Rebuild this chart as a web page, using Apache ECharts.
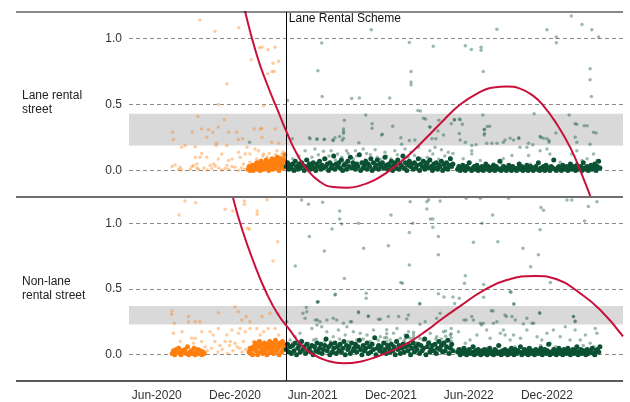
<!DOCTYPE html>
<html>
<head>
<meta charset="utf-8">
<script src="https://cdn.jsdelivr.net/npm/echarts@6/dist/echarts.min.js"></script>
<style>
  html, body { margin: 0; padding: 0; background: #fff; }
  #chart { width: 630px; height: 402px; }
</style>
</head>
<body>
<div id="chart"></div>
<script>
// Horizontal axis: days counted from 1 Jan 2020
const dayMin = 87;
const dayMax = 1243;
const schemeStartDay = 454;
const schemeLabel = 'Lane Rental Scheme';
const tickDays = [152, 335, 517, 700, 882, 1065];
const tickLabels = ['Jun-2020', 'Dec-2020', 'Jun-2021', 'Dec-2021', 'Jun-2022', 'Dec-2022'];
const yTicks = [0, 0.5, 1.0];
const panelNames = ['Lane rental\nstreet', 'Non-lane\nrental street'];
const laneBand = [0.19, 0.43];
const nonLaneBand = [0.23, 0.37];

// Fitted trend, [day, value]
const laneTrend = [[330, 1.62], [359, 1.20], [386, 0.875], [410, 0.655], [437, 0.44], [456, 0.29], [480, 0.125],
  [503, 0.01], [534, -0.085], [565, -0.124], [597, -0.13], [628, -0.114], [659, -0.076], [690, -0.015],
  [722, 0.063], [753, 0.152], [784, 0.252], [815, 0.354], [862, 0.50], [909, 0.595], [940, 0.628],
  [971, 0.636], [1002, 0.62], [1033, 0.565], [1057, 0.49], [1088, 0.352], [1120, 0.172], [1143, 0.0],
  [1166, -0.19], [1185, -0.37]];
const nonLaneTrend = [[310, 1.47], [330, 1.2], [351, 0.96], [378, 0.71], [410, 0.46], [437, 0.30], [464, 0.185],
  [487, 0.085], [519, 0.0], [550, -0.045], [589, -0.065], [628, -0.053], [667, -0.015], [706, 0.036],
  [745, 0.10], [784, 0.185], [815, 0.262], [862, 0.37], [917, 0.49], [971, 0.568], [1038, 0.599],
  [1088, 0.574], [1143, 0.467], [1190, 0.34], [1243, 0.14]];

// Dense clusters near zero: one reading (in hundredths) every few days
const laneCoreBeforeStart = 366, laneCoreBeforeStep = 2;
const laneCoreBefore = [1,3,0,2,1,4,0,2,
  4,2,6,1,3,5,0,7,2,4,1,6,3,8,2,5,0,4,
  7,3,9,1,5,8,2,6,10,4,0,7,3,9,5,2,8,12];
const laneCoreAfterStart = 455, laneCoreAfterStep = 3;
const laneCoreAfter = [3,6,1,4,2,5,0,7,3,1,5,2,6,4,0,3,8,2,5,1,
  4,6,2,0,5,3,7,1,4,2,9,3,5,0,6,2,4,11,1,5,
  3,6,2,8,0,4,5,1,7,3,10,2,6,4,1,5,3,12,0,6,
  2,4,7,1,5,3,9,0,6,2,4,8,1,5,3,6,2,10,4,1,
  5,3,7,0,4,6,2,8,1,5,3,11,2,6,0,4,7,3,5,1,
  6,2,4,9,0,5,3,7,1,4,6,2,8,3,0,5,2,6,1,4,
  3,7,0,5,2,6,1,4,9,3,5];
const laneCoreLateStart = 856, laneCoreLateStep = 3;
const laneCoreLate = [1,3,0,2,4,1,0,3,2,6,1,0,2,3,1,4,0,2,1,3,
  0,2,5,1,3,0,2,1,4,0,3,2,1,7,0,2,3,1,0,2,
  4,1,0,3,2,1,0,2,5,1,3,0,2,1,4,0,2,3,1,0,
  2,3,1,6,0,2,1,3,0,4,2,1,0,3,2,8,1,0,2,3,
  1,0,4,2,1,3,0,2,5,1,3,2,0,4,1,2,3,0,6,2,
  1,3,0,2,4,1,2,5,0,3,7,2];

const nonLaneClumpStart = 188, nonLaneClumpStep = 3;
const nonLaneClump = [1,3,0,4,2,5,1,0,3,2,4,1,6,0,2,3,1,5,0,2,4,1,3,0,2,1];
const nonLaneCoreBeforeStart = 368, nonLaneCoreBeforeStep = 2;
const nonLaneCoreBefore = [2,5,1,4,0,6,
  5,9,3,7,0,6,10,2,8,4,1,7,9,3,6,0,8,5,
  10,2,7,4,9,1,6,11,3,8,5,0,9,7,2,10,4,8,6];
const nonLaneCoreAfterStart = 455, nonLaneCoreAfterStep = 3;
const nonLaneCoreAfter = [4,8,2,6,1,7,3,9,0,5,7,2,10,4,6,1,8,3,5,2,
  7,0,6,3,9,2,5,8,1,4,7,12,3,6,0,8,2,5,9,1,
  6,3,8,2,5,10,0,7,4,6,1,9,3,5,8,2,6,11,4,0,
  7,3,5,9,1,6,2,8,4,13,0,5,7,3,6,2,9,4,1,7,
  5,2,8,3,6,0,10,4,7,1,5,8,2,6,14,3,7,0,5,9,
  2,6,4,8,1,7,3,5,12,0,6,9,2,4,7,3,8,1,5,10,
  4,7,2,9,3,6,11,1,5,8,3];
const nonLaneCoreLateStart = 856, nonLaneCoreLateStep = 3;
const nonLaneCoreLate = [2,4,0,3,1,5,2,0,3,4,1,2,6,0,3,1,4,2,0,3,
  1,4,2,0,3,5,1,2,0,4,3,1,7,2,0,3,1,4,2,0,
  3,1,5,2,0,4,1,3,2,6,0,2,4,1,3,0,5,2,1,3,
  0,4,2,1,3,5,0,2,4,1,3,8,0,2,1,4,3,0,2,5,
  1,3,0,4,2,1,5,3,0,2,4,1,3,6,0,2,4,1,3,2,
  0,4,1,3,2,5,1,0,3,4,2,6];

// Individual observations, [day, value]
const laneBefore = [[253,1.14],[288,1.055],[344,1.08],[392,0.93],[398,0.934],[412,0.914],[429,0.934],[373,0.838],
  [424,0.813],[437,0.828],[412,0.732],[427,0.75],[422,0.75],[316,0.657],[296,0.5],[402,0.49],
  [248,0.41],[189,0.29],[191,0.235],[235,0.29],[257,0.315],[273,0.31],[283,0.29],[269,0.252],[310,0.384],
  [320,0.29],[339,0.29],[343,0.235],[353,0.24],[380,0.315],[394,0.315],[398,0.32],[398,0.252],[292,0.207],
  [291,0.19],[316,0.19],[421,0.215],[437,0.207],[363,0.177],[429,0.315],[296,0.33],
  [210,0.177],[218,0.19],[242,0.18],[257,0.13],[253,0.1],[242,0.1],[269,0.1],[296,0.088],[304,0.126],
  [320,0.076],[328,0.088],[343,0.139],[347,0.1],[359,0.126],[370,0.126],[382,0.164],[390,0.15],[402,0.126],
  [410,0.1],[421,0.088],[433,0.15],[441,0.1],[445,0.126],[195,0.045],[207,0.025],[238,0.038],[246,0.05],
  [277,0.038],[285,0.05],[316,0.038],[328,0.03],[335,0.025],[355,0.05],[370,0.063],[386,0.088],[394,0.076],
  [188,0.03],[203,0.01],[209,0.005],[230,0.01],[234,0.03],[246,0.02],[250,0.01],[281,0.015],[289,0.035],
  [304,0.005],[320,0.01],[343,0.0],[262,0.02],[270,0.005],[297,0.02],[312,0.015],[350,0.02],[358,0.01],
  [400,0.11],[415,0.13],[430,0.12],[448,0.14],[444,0.09],[426,0.07],[408,0.08],[452,0.1]];

const laneAfter = [[654,1.066],[538,0.965],[743,0.97],[799,0.94],[874,0.945],[888,0.917],[911,0.934],[911,0.91],
  [948,1.07],[1065,1.066],[1087,1.01],[1087,0.967],[1122,1.17],[1147,1.106],[1170,1.066],[1186,1.01],
  [529,0.755],[747,0.75],[747,0.67],[747,0.65],[916,0.75],[1166,0.77],[1166,0.687],[1169,0.56],[539,0.56],
  [608,0.545],[626,0.55],[697,0.55],[458,0.53],[369,0.215],
  [769,0.45],[641,0.42],[781,0.39],[812,0.38],[849,0.384],[860,0.39],[915,0.42],[1035,0.43],[1117,0.42],
  [591,0.38],[656,0.354],[656,0.32],[704,0.336],[925,0.333],[918,0.31],[918,0.27],[1131,0.354],[1152,0.34],
  [1174,0.29],[678,0.27],[589,0.295],[589,0.245],[544,0.237],[565,0.227],[569,0.248],[979,0.245],[999,0.242],
  [1022,0.207],[1032,0.195],[1049,0.258],[1057,0.245],[1070,0.227],[509,0.248],[527,0.24],[469,0.24],
  [860,0.28],[792,0.33],[810,0.30],[841,0.354],
  [589,0.315],[589,0.28],[580,0.258],[586,0.23],[680,0.275],[544,0.235],[527,0.235],[511,0.24],[564,0.232],
  [625,0.21],[725,0.2],[723,0.248],[743,0.227],[756,0.232],[763,0.455],[776,0.396],[790,0.33],[796,0.24],
  [805,0.24],[823,0.27],
  [848,0.384],[862,0.384],[867,0.35],[919,0.31],[919,0.28],[931,0.335],[1135,0.35],[1159,0.34],[1180,0.285],
  [1086,0.285],[862,0.232],[874,0.215],[889,0.19],[899,0.195],[924,0.207],[936,0.207],[948,0.207],[963,0.215],
  [967,0.232],[987,0.232],[999,0.248],[1051,0.252],[1065,0.24],[1070,0.215],[1135,0.215],[1131,0.252],[1166,0.2],
  [499,0.15],[522,0.164],[542,0.146],[560,0.15],[575,0.126],[596,0.15],[617,0.15],[635,0.164],[643,0.13],
  [663,0.157],[686,0.139],[709,0.15],[733,0.164],[747,0.139],[764,0.177],[791,0.15],[803,0.177],[818,0.157],
  [834,0.139],
  [889,0.15],[889,0.126],[869,0.089],[885,0.063],[909,0.076],[940,0.05],[963,0.089],[983,0.114],[1002,0.177],
  [1018,0.177],[1022,0.114],[1026,0.05],[1049,0.15],[1065,0.164],[1072,0.126],[1096,0.063],[1123,0.126],
  [1135,0.15],[1147,0.076],[1159,0.089],[1174,0.126],[1182,0.076],[959,0.05],[999,0.04],[1042,0.05],
  [470,0.09],[485,0.11],[500,0.08],[515,0.1],[530,0.12],[548,0.09],[555,0.11],[570,0.08],[585,0.1],[600,0.13],
  [612,0.09],[620,0.11],[640,0.08],[652,0.12],[668,0.1],[675,0.085],[690,0.11],[700,0.09],[715,0.12],
  [728,0.08],[740,0.1],[755,0.115],[770,0.09],[785,0.1],[798,0.125],[812,0.085],[826,0.11],[838,0.095],[845,0.13]];

const nonLaneBefore = [[218,1.17],[243,1.157],[204,1.063],[312,1.106],[330,1.094],[357,1.17],[357,1.145],
  [387,1.094],[387,1.068],[410,1.18],[364,0.962],[369,0.955],[435,0.86],[424,0.713],
  [335,0.365],[343,0.327],[296,0.32],[242,0.25],[226,0.25],[187,0.333],[187,0.307],[193,0.24],[226,0.29],
  [253,0.25],[361,0.29],[370,0.25],[398,0.29],[417,0.315],[437,0.307],[351,0.264],
  [191,0.163],[211,0.175],[234,0.125],[242,0.125],[257,0.175],[277,0.175],[284,0.15],[296,0.2],[316,0.15],
  [328,0.188],[343,0.163],[347,0.2],[359,0.175],[370,0.2],[386,0.2],[394,0.15],[402,0.175],[413,0.2],
  [429,0.2],[437,0.15],[207,0.1],[238,0.087],[257,0.1],[288,0.1],[312,0.1],[324,0.1],[335,0.087],[355,0.1],
  [378,0.1],[394,0.1],
  [270,0.03],[280,0.05],[295,0.02],[305,0.04],[318,0.01],[330,0.03],[340,0.06],[352,0.02],[360,0.04],
  [300,0.07],[265,0.06],[322,0.07],[346,0.05],[1190,0.02]];

const nonLaneAfter = [[491,1.177],[507,1.145],[509,0.9],[476,0.675],[530,0.403],[540,1.16],[580,1.094],[580,1.033],
  [585,0.995],[562,0.957],[624,1.0],[700,1.063],[745,1.164],[751,1.0],[743,0.93],[784,1.164],[788,1.18],
  [815,1.17],[784,1.109],[792,1.033],[798,1.033],[798,0.97],[811,0.9],[876,1.19],[909,1.19],[975,1.19],
  [938,1.063],[913,1.0],[893,0.855],[950,0.86],[1009,0.81],[1051,1.12],[1057,1.1],[1049,0.95],[1045,0.76],
  [1027,0.67],[1112,1.177],[1123,1.177],[1162,1.127],[1182,1.164],[1153,1.017],[636,0.81],[694,0.83],
  [544,0.79],[743,0.683],[811,0.76],[591,0.58],[723,0.55],[727,0.543],[642,0.467],[642,0.43],[570,0.46],
  [811,0.464],[860,0.43],[874,0.6],[872,0.543],[917,0.535],[917,0.437],[981,0.475],[988,0.386],[1073,0.55],
  [528,0.403],[767,0.39],
  [624,0.327],[647,0.295],[671,0.27],[694,0.29],[523,0.264],[534,0.25],[565,0.277],[573,0.264],[589,0.239],
  [608,0.25],[737,0.272],[768,0.231],[780,0.25],[815,0.315],[871,0.264],[893,0.264],[909,0.239],[939,0.333],
  [970,0.29],[991,0.264],[1018,0.277],[1048,0.315],[1127,0.29],[1131,0.25],
  [494,0.315],[502,0.36],[503,0.327],[499,0.277],[456,0.25],[528,0.4],[569,0.454],[624,0.32],[647,0.29],
  [675,0.27],[718,0.29],[741,0.302],[768,0.386],[824,0.44],[807,0.277],[528,0.264],[550,0.264],[605,0.25],
  [464,0.112],[476,0.137],[487,0.163],[515,0.2],[527,0.226],[538,0.213],[550,0.175],[565,0.137],[577,0.188],
  [593,0.15],[597,0.213],[612,0.175],[628,0.163],[644,0.15],[659,0.188],[675,0.137],[706,0.163],[714,0.2],
  [722,0.125],[741,0.175],[753,0.15],[768,0.125],[792,0.163],[807,0.137],[823,0.175],[839,0.15],[519,0.112],
  [558,0.1],[620,0.112],[651,0.1],[698,0.112],
  [690,0.08],[690,0.1],[690,0.13],[690,0.16],[690,0.19],[733,0.09],[733,0.12],[733,0.15],[753,0.1],[753,0.13],
  [753,0.17],[818,0.09],[818,0.12],[828,0.1],[828,0.14],[828,0.18],[841,0.07],[841,0.1],[841,0.13],[841,0.16],
  [841,0.2],
  [858,0.175],[874,0.087],[885,0.112],[901,0.15],[912,0.226],[916,0.239],[924,0.188],[932,0.125],[940,0.239],
  [948,0.25],[956,0.163],[963,0.188],[967,0.15],[979,0.112],[987,0.15],[1003,0.125],[1018,0.188],[1030,0.239],
  [1042,0.137],[1053,0.112],[1065,0.163],[1073,0.087],[1080,0.188],[1096,0.137],[1108,0.213],[1119,0.112],
  [1131,0.188],[1143,0.112],[1155,0.15],[1166,0.087],[1178,0.2],[1182,0.163],[983,0.29],[1034,0.239],
  [889,0.29],[876,0.264],[935,0.335],[967,0.302],[1048,0.32],[1127,0.29],[1131,0.256],[1010,0.234],
  [845,0.44],[849,0.39],[979,0.48],[987,0.386],
  [865,0.05],[895,0.06],[925,0.05],[955,0.07],[990,0.06],[1020,0.05],[1050,0.07],[1085,0.06],[1115,0.05],
  [1150,0.07],[1175,0.06],
  [470,0.09],[490,0.11],[508,0.085],[525,0.12],[545,0.1],[560,0.09],[580,0.12],[600,0.1],[615,0.085],
  [635,0.12],[655,0.09],[670,0.11],[685,0.13],[700,0.09],[715,0.11],[730,0.1],[745,0.125],[760,0.09],
  [775,0.11],[790,0.1],[805,0.12],[820,0.09],[835,0.11]];

// Styling
const ORANGE = '#ff7f0e';
const GREEN = '#0b5134';
const TREND = '#c8103a';
const FONT = '"Liberation Sans", Arial, sans-serif';
const layout = { left: 129, right: 7, top: 12, panelH: 185, frameLeft: 16 };

function expandSeries(start, step, hundredths) {
  return hundredths.map((v, i) => [start + i * step, v / 100]);
}

const chart = echarts.init(document.getElementById('chart'), null, { renderer: 'canvas' });

function panelSeries(idx, before, after, coreBefore, coreAfter, trend, band) {
  const pointStyle = (c, o) => ({ color: c, opacity: o });
  return [
    {
      type: 'scatter', xAxisIndex: idx, yAxisIndex: idx, silent: true,
      data: before, symbolSize: 3.5, itemStyle: pointStyle(ORANGE, 0.4),
      markArea: {
        silent: true, z: 1,
        itemStyle: { color: '#d9d9d9' },
        data: [[{ yAxis: band[0] }, { yAxis: band[1] }]]
      },
      markLine: {
        silent: true, symbol: 'none', z: 5,
        label: { show: false },
        lineStyle: { color: '#000', width: 1, type: 'solid' },
        data: [{ xAxis: schemeStartDay }]
      }
    },
    {
      type: 'scatter', xAxisIndex: idx, yAxisIndex: idx, silent: true,
      data: coreBefore, symbolSize: 5, itemStyle: pointStyle(ORANGE, 1)
    },
    {
      type: 'scatter', xAxisIndex: idx, yAxisIndex: idx, silent: true,
      data: after, symbolSize: 3.5, itemStyle: pointStyle(GREEN, 0.4)
    },
    {
      type: 'scatter', xAxisIndex: idx, yAxisIndex: idx, silent: true,
      data: coreAfter, symbolSize: 5, itemStyle: pointStyle(GREEN, 1)
    },
    {
      type: 'line', xAxisIndex: idx, yAxisIndex: idx, silent: true,
      data: trend, smooth: 0.5, showSymbol: false, clip: true, z: 10,
      lineStyle: { color: TREND, width: 2 }
    }
  ];
}

const laneCore = expandSeries(laneCoreBeforeStart, laneCoreBeforeStep, laneCoreBefore);
const laneCoreGreen = expandSeries(laneCoreAfterStart, laneCoreAfterStep, laneCoreAfter)
  .concat(expandSeries(laneCoreLateStart, laneCoreLateStep, laneCoreLate));
const nonLaneCore = expandSeries(nonLaneClumpStart, nonLaneClumpStep, nonLaneClump)
  .concat(expandSeries(nonLaneCoreBeforeStart, nonLaneCoreBeforeStep, nonLaneCoreBefore));
const nonLaneCoreGreen = expandSeries(nonLaneCoreAfterStart, nonLaneCoreAfterStep, nonLaneCoreAfter)
  .concat(expandSeries(nonLaneCoreLateStart, nonLaneCoreLateStep, nonLaneCoreLate));

function yAxisFor(idx) {
  return {
    type: 'value', gridIndex: idx, min: -0.2, max: 1.2,
    axisLine: { show: false },
    axisTick: { show: false, customValues: yTicks },
    axisLabel: {
      customValues: yTicks, color: '#333', fontSize: 12, fontFamily: FONT, margin: 7,
      formatter: v => v.toFixed(1)
    },
    splitLine: { show: true, lineStyle: { color: '#8a8a8a', type: [4, 3], width: 1 } }
  };
}

function xAxisFor(idx, showLabels) {
  return {
    type: 'value', gridIndex: idx, min: dayMin, max: dayMax,
    axisLine: { show: false },
    axisTick: { show: false, customValues: tickDays },
    splitLine: { show: false },
    axisLabel: {
      show: showLabels, customValues: tickDays, color: '#333', fontSize: 12, fontFamily: FONT, margin: 9,
      formatter: v => tickLabels[tickDays.indexOf(v)] || ''
    }
  };
}

const top1 = layout.top, top2 = layout.top + layout.panelH;
const bottom2 = top2 + layout.panelH - 1;
const frameRight = 630 - layout.right;

chart.setOption({
  animation: false,
  backgroundColor: '#fff',
  grid: [
    { left: layout.left, right: layout.right, top: top1, height: layout.panelH },
    { left: layout.left, right: layout.right, top: top2, height: layout.panelH - 1 }
  ],
  xAxis: [xAxisFor(0, false), xAxisFor(1, true)],
  yAxis: [yAxisFor(0), yAxisFor(1)],
  series: [
    ...panelSeries(0, laneBefore, laneAfter, laneCore, laneCoreGreen, laneTrend, laneBand),
    ...panelSeries(1, nonLaneBefore, nonLaneAfter, nonLaneCore, nonLaneCoreGreen, nonLaneTrend, nonLaneBand)
  ]
});

const schemeX = chart.convertToPixel({ xAxisIndex: 0 }, schemeStartDay);

chart.setOption({
  graphic: [
    { type: 'line', silent: true, z: 20, shape: { x1: layout.frameLeft, y1: top1, x2: frameRight, y2: top1 },
      style: { stroke: '#111', lineWidth: 1 } },
    { type: 'line', silent: true, z: 20, shape: { x1: layout.frameLeft, y1: top2, x2: frameRight, y2: top2 },
      style: { stroke: '#6e6e6e', lineWidth: 2 } },
    { type: 'line', silent: true, z: 20, shape: { x1: layout.frameLeft, y1: bottom2, x2: frameRight, y2: bottom2 },
      style: { stroke: '#222', lineWidth: 1.5 } },
    { type: 'text', silent: true, z: 20, x: schemeX + 3, y: top1 + 1,
      style: { text: schemeLabel, fill: '#111', font: '12px ' + FONT } },
    { type: 'text', silent: true, z: 20, x: 22, y: 89,
      style: { text: panelNames[0], fill: '#222', font: '12px ' + FONT, lineHeight: 14 } },
    { type: 'text', silent: true, z: 20, x: 22, y: 275,
      style: { text: panelNames[1], fill: '#222', font: '12px ' + FONT, lineHeight: 14 } }
  ]
});
</script>
</body>
</html>
